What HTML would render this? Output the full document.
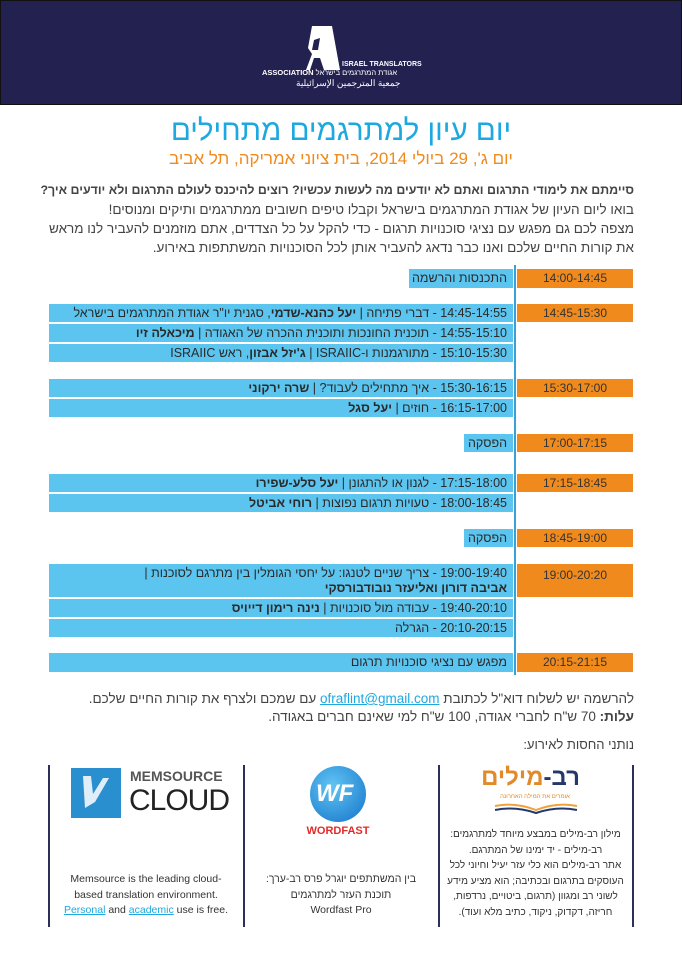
<!DOCTYPE html>
<html><head><meta charset="utf-8">
<style>
*{margin:0;padding:0;box-sizing:border-box}
body{width:682px;height:964px;background:#fff;position:relative;overflow:hidden;font-family:"Liberation Sans","Noto Sans CJK SC",sans-serif;color:#333}
.a{position:absolute}
.rt{direction:rtl;text-align:right}
.hd{left:0;top:0;width:682px;height:105px;background:#232150;border:1px solid #111}
.b{position:absolute;background:#5bc4ef;direction:rtl;text-align:right;padding-right:6px;font-size:12.5px;color:#2a2a2a;line-height:19px;white-space:nowrap;overflow:hidden}
.o{position:absolute;background:#f08a1c;left:517px;width:116px;text-align:center;font-size:12px;color:#333;line-height:19px}
.vl{left:514px;top:265px;width:1.5px;height:410px;background:#3aa0d8}
.dv{position:absolute;top:765px;width:1.5px;height:162px;background:#2e2e5a}
.ft{font-size:10.5px;line-height:15.5px;color:#333;white-space:nowrap}
.pl{position:absolute;right:48px;direction:rtl;text-align:right;white-space:nowrap;font-size:13.5px;color:#444}
</style></head><body>
<div class="a hd"></div>
<svg class="a" style="left:300px;top:20px" width="130" height="70">
<path d="M12 6 L32 6 L40 50 L24 50 L20 38 L14 38 L10 50 L6 50 L12 34 L8 28 Z" fill="#fff"/>
<path d="M14 20 L20 18 L18 30 L12 30Z" fill="#232150"/>
<text x="42" y="46" font-size="7" fill="#fff" font-weight="bold" font-family="Liberation Sans">ISRAEL TRANSLATORS</text>
</svg>
<div class="a" style="left:262px;top:68px;font-size:7.5px;color:#fff;font-weight:bold">ASSOCIATION <span style="font-weight:normal">אגודת המתרגמים בישראל</span></div>
<div class="a" style="left:296px;top:78px;font-size:9px;color:#fff">جمعية المترجمين الإسرائيلية</div>

<div class="a rt" style="left:0;width:682px;text-align:center;top:114px;font-size:29.5px;color:#1ea8e0">יום עיון למתרגמים מתחילים</div>
<div class="a rt" style="left:0;width:682px;text-align:center;top:149px;font-size:17px;color:#f08a1c">יום ג', 29 ביולי 2014, בית ציוני אמריקה, תל אביב</div>
<div class="pl" style="top:183px;font-weight:bold;font-size:12.4px;letter-spacing:0">סיימתם את לימודי התרגום ואתם לא יודעים מה לעשות עכשיו? רוצים להיכנס לעולם התרגום ולא יודעים איך?</div>
<div class="pl" style="top:202px">בואו ליום העיון של אגודת המתרגמים בישראל וקבלו טיפים חשובים ממתרגמים ותיקים ומנוסים!</div>
<div class="pl" style="top:221px;letter-spacing:0">מצפה לכם גם מפגש עם נציגי סוכנויות תרגום - כדי להקל על כל הצדדים, אתם מוזמנים להעביר לנו מראש</div>
<div class="pl" style="top:240px">את קורות החיים שלכם ואנו כבר נדאג להעביר אותן לכל הסוכנויות המשתתפות באירוע.</div>

<div class="a vl"></div>
<div class="b" style="left:409px;width:104px;top:269px;height:19px">התכנסות והרשמה</div>
<div class="o" style="top:269px;height:19px">14:00-14:45</div>
<div class="b" style="left:49px;width:464px;top:304px;height:18px">14:45-14:55 - דברי פתיחה | <b>יעל כהנא-שדמי</b>, סגנית יו"ר אגודת המתרגמים בישראל</div>
<div class="o" style="top:304px;height:18px">14:45-15:30</div>
<div class="b" style="left:49px;width:464px;top:324px;height:18px">14:55-15:10 - תוכנית החונכות ותוכנית ההכרה של האגודה | <b>מיכאלה זיו</b></div>
<div class="b" style="left:49px;width:464px;top:344px;height:18px">15:10-15:30 - מתורגמנות ו-ISRAIIC | <b>ג'יזל אבזון</b>, ראש ISRAIIC</div>
<div class="b" style="left:49px;width:464px;top:379px;height:18px">15:30-16:15 - איך מתחילים לעבוד? | <b>שרה ירקוני</b></div>
<div class="o" style="top:379px;height:18px">15:30-17:00</div>
<div class="b" style="left:49px;width:464px;top:399px;height:18px">16:15-17:00 - חוזים | <b>יעל סגל</b></div>
<div class="b" style="left:464px;width:49px;top:434px;height:18px">הפסקה</div>
<div class="o" style="top:434px;height:18px">17:00-17:15</div>
<div class="b" style="left:49px;width:464px;top:474px;height:18px">17:15-18:00 - לגנון או להתגונן | <b>יעל סלע-שפירו</b></div>
<div class="o" style="top:474px;height:18px">17:15-18:45</div>
<div class="b" style="left:49px;width:464px;top:494px;height:18px">18:00-18:45 - טעויות תרגום נפוצות | <b>רוחי אביטל</b></div>
<div class="b" style="left:464px;width:49px;top:529px;height:18px">הפסקה</div>
<div class="o" style="top:529px;height:18px">18:45-19:00</div>
<div class="b" style="left:49px;width:464px;top:564px;height:33px;line-height:15px;padding-top:2px">19:00-19:40 - צריך שניים לטנגו: על יחסי הגומלין בין מתרגם לסוכנות |<br><b>אביבה דורון ואליעזר נובודבורסקי</b></div>
<div class="o" style="top:564px;height:33px;line-height:22px">19:00-20:20</div>
<div class="b" style="left:49px;width:464px;top:599px;height:18px">19:40-20:10 - עבודה מול סוכנויות | <b>נינה רימון דייויס</b></div>
<div class="b" style="left:49px;width:464px;top:619px;height:18px">20:10-20:15 - הגרלה</div>
<div class="b" style="left:49px;width:464px;top:653px;height:19px">מפגש עם נציגי סוכנויות תרגום</div>
<div class="o" style="top:653px;height:19px">20:15-21:15</div>

<div class="pl" style="top:691px;font-size:13.5px">להרשמה יש לשלוח דוא"ל לכתובת <span style="color:#1ea8e0;text-decoration:underline">ofraflint@gmail.com</span> עם שמכם ולצרף את קורות החיים שלכם.</div>
<div class="pl" style="top:709px;font-size:13.5px"><b>עלות:</b> 70 ש"ח לחברי אגודה, 100 ש"ח למי שאינם חברים באגודה.</div>
<div class="pl" style="top:737px;font-size:13px">נותני החסות לאירוע:</div>

<div class="dv" style="left:48px"></div><div class="dv" style="left:243px"></div><div class="dv" style="left:438px"></div><div class="dv" style="left:632px"></div>

<div class="a" style="left:71px;top:768px;width:50px;height:50px;background:#2a8fcf"></div>
<svg class="a" style="left:71px;top:768px" width="50" height="50"><path d="M12 8 L20 8 L22 26 L32 10 L38 10 L24 34 L14 40Z" fill="#fff" opacity=".85"/></svg>
<div class="a" style="left:130px;top:768px;font-size:14px;font-weight:bold;color:#555;letter-spacing:0">MEMSOURCE</div>
<div class="a" style="left:129px;top:783px;font-size:30px;color:#222;line-height:36px;letter-spacing:-1px">CLOUD</div>
<div class="a ft" style="left:50px;width:192px;text-align:center;top:872px">Memsource is the leading cloud-<br>based translation environment.<br><span style="color:#1ea8e0;text-decoration:underline">Personal</span> and <span style="color:#1ea8e0;text-decoration:underline">academic</span> use is free.</div>

<div class="a" style="left:310px;top:766px;width:56px;height:56px;border-radius:50%;background:radial-gradient(circle at 40% 35%,#5fc4f4,#1673c8)"></div>
<div class="a" style="left:316px;top:780px;font-size:24px;font-weight:bold;color:#fff;font-style:italic">WF</div>
<div class="a" style="left:295px;top:825px;width:86px;text-align:center;font-size:11px;font-weight:bold;color:#e32a2a">WORDFAST</div>
<div class="a ft rt" style="left:246px;width:190px;text-align:center;top:872px">בין המשתתפים יוגרל פרס רב-ערך:<br>תוכנת העזר למתרגמים<br>Wordfast Pro</div>

<div class="a rt" style="left:490px;top:764px;width:90px;text-align:center;font-size:24px;font-weight:bold;color:#24386b">רב-<span style="color:#e08a2a">מילים</span></div>
<div class="a rt" style="left:490px;top:794px;width:90px;text-align:center;font-size:6px;color:#e08a2a">אומרים את המילה האחרונה</div>
<svg class="a" style="left:493px;top:802px" width="86" height="12"><path d="M2 4 Q22 0 43 8 Q64 0 84 4" stroke="#f0a23a" stroke-width="2" fill="none"/><path d="M2 8 Q22 4 43 11 Q64 4 84 8" stroke="#24386b" stroke-width="2" fill="none"/></svg>
<div class="a ft rt" style="left:444px;width:183px;text-align:center;top:827px;font-size:10px">מילון רב-מילים במבצע מיוחד למתרגמים:<br>רב-מילים - יד ימינו של המתרגם.</div>
<div class="a ft rt" style="left:444px;width:183px;text-align:center;top:858px;font-size:10px">אתר רב-מילים הוא כלי עזר יעיל וחיוני לכל<br>העוסקים בתרגום ובכתיבה; הוא מציע מידע<br>לשוני רב ומגוון (תרגום, ביטויים, נרדפות,<br>חריזה, דקדוק, ניקוד, כתיב מלא ועוד).</div>
</body></html>
